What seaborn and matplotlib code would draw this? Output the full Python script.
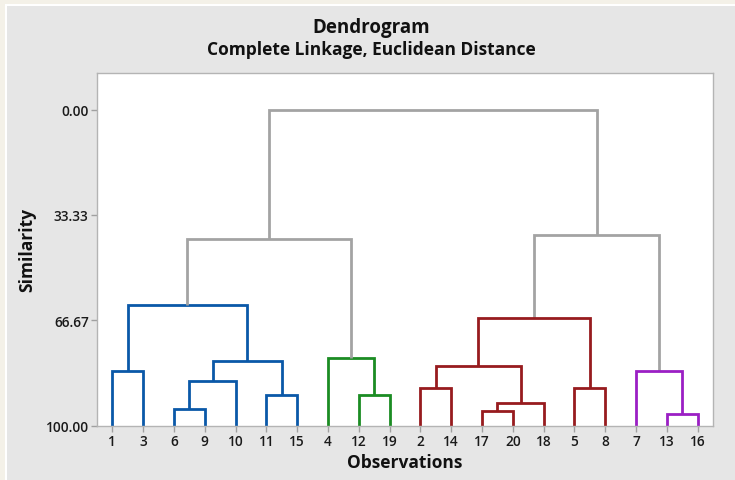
import matplotlib
matplotlib.use("Agg")
import matplotlib.pyplot as plt
import seaborn as sns
import pandas as pd
from matplotlib.patches import Rectangle

# ---- data ----
leaf_labels = [1, 3, 6, 9, 10, 11, 15, 4, 12, 19, 2, 14, 17, 20, 18, 5, 8, 7, 13, 16]
# merges: child A, child B (leaf label int or cluster name), similarity, colour group
merge_names = ["c1", "c2", "c3", "c4", "c5", "c6", "c7", "c8", "c9", "c10",
               "c11", "c12", "c13", "c14", "c15", "c16", "c17", "c18", "c19"]
merge_a = [6, "c1", 11, "c2", 1, "c5", 12, 4, "c6", 17,
           "c10", 2, "c12", 5, "c13", 13, 7, "c15", "c9"]
merge_b = [9, 10, 15, "c3", 3, "c4", 19, "c7", "c8", 20,
           18, 14, "c11", 8, "c14", 16, "c16", "c17", "c18"]
merge_sim = [94.7, 85.9, 90.3, 79.5, 82.9, 61.8, 90.3, 78.7, 40.9, 95.3,
             92.8, 88.1, 81.2, 88.1, 66.0, 96.4, 82.9, 39.7, 0.0]
merge_group = ["blue", "blue", "blue", "blue", "blue", "blue", "green", "green", "gray", "red",
               "red", "red", "red", "red", "red", "purple", "purple", "gray", "gray"]
y_ticks = [0.00, 33.33, 66.67, 100.00]
y_tick_labels = ["0.00", "33.33", "66.67", "100.00"]

palette = {"blue": "#0a58a8", "green": "#1b8c23", "red": "#971b1e",
           "purple": "#9b1fc4", "gray": "#a3a3a3"}

# ---- compute dendrogram link paths ----
pos = {lab: i + 1 for i, lab in enumerate(leaf_labels)}
hgt = {lab: 100.0 for lab in leaf_labels}
rows = []
for name, a, b, s, g in zip(merge_names, merge_a, merge_b, merge_sim, merge_group):
    xa, xb = pos[a], pos[b]
    ha, hb = hgt[a], hgt[b]
    for k, (x, y) in enumerate([(xa, ha), (xa, s), (xb, s), (xb, hb)]):
        rows.append({"link": name, "order": k, "x": x, "y": y, "group": g})
    pos[name] = (xa + xb) / 2
    hgt[name] = s
df = pd.DataFrame(rows)

# ---- figure ----
sns.set_theme(style="white")
plt.rcParams["font.family"] = ["Open Sans", "DejaVu Sans"]

fig = plt.figure(figsize=(7.35, 4.81), dpi=100, facecolor="#f4f1e8")
fig.patches.append(Rectangle((5 / 735, 0), 1, 1 - 5 / 481, transform=fig.transFigure,
                             facecolor="#ffffff", edgecolor="none", zorder=-2))
fig.patches.append(Rectangle((7 / 735, 0), 1, 1 - 7 / 481, transform=fig.transFigure,
                             facecolor="#e6e6e6", edgecolor="none", zorder=-1))

ax = fig.add_axes([97 / 735, 1 - 426.5 / 481, (713 - 97) / 735, (426.5 - 74) / 481])
ax.set_facecolor("white")

sns.lineplot(data=df, x="x", y="y", units="link", hue="group", palette=palette,
             estimator=None, sort=False, linewidth=2.0, legend=False, ax=ax,
             solid_joinstyle="miter", solid_capstyle="butt")

ax.set_xlim(0.5, len(leaf_labels) + 0.5)
ax.set_ylim(100, -11.6)
ax.set_xticks(range(1, len(leaf_labels) + 1))
ax.set_xticklabels([str(l) for l in leaf_labels])
ax.set_yticks(y_ticks)
ax.set_yticklabels(y_tick_labels)

for sp in ax.spines.values():
    sp.set_color("#b4b4b4")
    sp.set_linewidth(1.0)
ax.tick_params(axis="both", which="both", direction="out", length=4, width=1,
               color="#a0a0a0", labelsize=9.8, labelcolor="#1a1a1a", pad=2,
               bottom=True, left=True)
for lab in ax.get_xticklabels() + ax.get_yticklabels():
    lab.set_fontweight("semibold")

ax.set_xlabel("Observations", fontsize=12.5, fontweight="bold", color="#111111", labelpad=4)
ax.set_ylabel("Similarity", fontsize=12.5, fontweight="bold", color="#111111", labelpad=7)

fig.text(371 / 735, 1 - 28 / 481, "Dendrogram", ha="center", va="center",
         fontsize=13.5, fontweight="bold", color="#111111")
fig.text(371 / 735, 1 - 50 / 481, "Complete Linkage, Euclidean Distance", ha="center", va="center",
         fontsize=12.5, fontweight="bold", color="#111111")

fig.savefig("out.png", dpi=100, facecolor=fig.get_facecolor())
